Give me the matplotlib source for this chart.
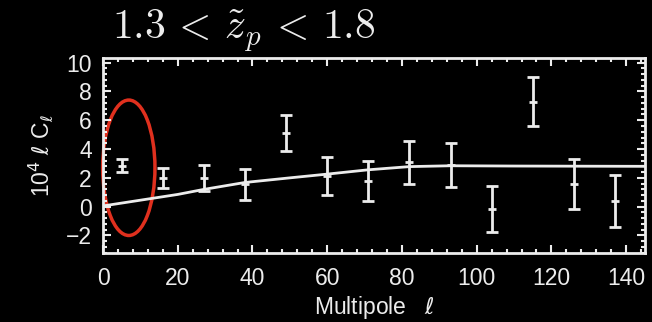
import matplotlib
matplotlib.use("Agg")
import matplotlib.pyplot as plt
from matplotlib.patches import Ellipse
from matplotlib.ticker import MultipleLocator

# band powers
ell = [5, 16, 27, 38, 49, 60, 71, 82, 93, 104, 115, 126, 137]
cl = [2.84, 1.98, 2.0, 1.56, 5.1, 2.14, 1.79, 3.07, 2.89, -0.19, 7.27, 1.56, 0.39]
err = [0.45, 0.7, 0.88, 1.08, 1.25, 1.33, 1.4, 1.5, 1.55, 1.6, 1.7, 1.75, 1.8]

# model curve
model_ell = [0, 5, 10, 15, 20, 27, 38, 50, 60, 71, 82, 93, 110, 145]
model_cl = [0.05, 0.25, 0.45, 0.65, 0.85, 1.2, 1.68, 2.0, 2.26, 2.56, 2.78, 2.84, 2.82, 2.8]

fg = "#ececec"
plt.rcParams["font.family"] = ["Liberation Sans", "DejaVu Sans"]

fig = plt.figure(figsize=(6.52, 3.22), dpi=100, facecolor="black")
ax = fig.add_axes([0.158, 0.215, 0.831, 0.604], facecolor="black")

ax.plot(model_ell, model_cl, color=fg, lw=2)
ax.errorbar(ell, cl, yerr=err, fmt="_", color=fg, ms=6, mew=2,
            elinewidth=2, capsize=4.5, capthick=2)

ax.add_patch(Ellipse((6.9, 2.7), 14, 9.4, fill=False, edgecolor="#e0301e",
                     lw=2.5, clip_on=False))

ax.set_xlim(0, 145)
ax.set_ylim(-3.2, 10.3)
ax.xaxis.set_major_locator(MultipleLocator(20))
ax.xaxis.set_minor_locator(MultipleLocator(4))
ax.yaxis.set_major_locator(MultipleLocator(2))
ax.yaxis.set_minor_locator(MultipleLocator(0.4))
ax.tick_params(which="both", direction="in", top=True, right=True,
               color=fg, width=1.5, labelcolor=fg, labelsize=16.5)
ax.tick_params(which="major", length=6)
ax.tick_params(which="minor", length=3)
ax.tick_params(axis="x", which="major", pad=10)
ax.tick_params(axis="y", which="major", pad=8)
ax.set_yticks([-2, 0, 2, 4, 6, 8, 10])
ax.set_yticklabels(["\u22122", "0", "2", "4", "6", "8", "10"])
for s in ax.spines.values():
    s.set_color(fg)
    s.set_linewidth(2)

ax.set_xlabel(r"Multipole   $\ell$", color=fg, fontsize=16.5, labelpad=3)
ax.set_ylabel(r"10$^4$ $\ell$ C$_\ell$", color=fg, fontsize=16.5, labelpad=8)

fig.text(0.172, 0.878, r"$1.3\,<\,\tilde{z}_p\,<\,1.8$", color=fg, fontsize=30,
         va="baseline", ha="left", math_fontfamily="cm")

fig.savefig("out.png", dpi=100, facecolor="black")
